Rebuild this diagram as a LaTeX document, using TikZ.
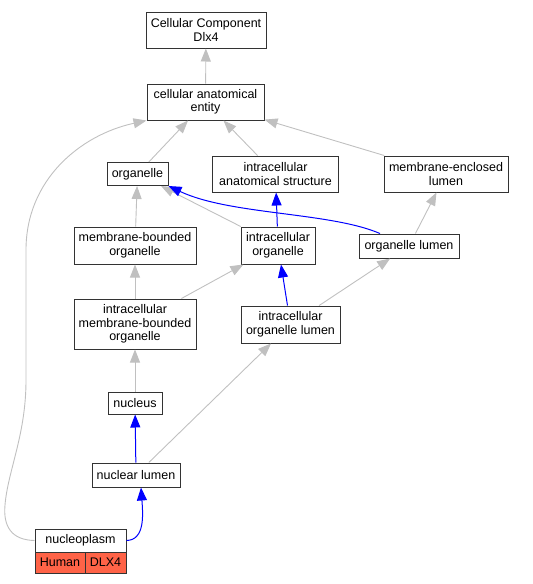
\documentclass[tikz,border=0pt]{standalone}
\usepackage{fontspec}
\setmainfont{Liberation Sans}
\usetikzlibrary{arrows.meta,calc}
\definecolor{edgegray}{RGB}{192,192,192}
\definecolor{edgeblue}{RGB}{0,0,255}
\definecolor{tomatofill}{RGB}{255,99,71}
\definecolor{boxline}{RGB}{51,51,51}
\begin{document}
\begin{tikzpicture}[x=1pt,y=-1pt,
  box/.style={draw=boxline,line width=1pt,fill=white,inner sep=0pt,align=center,
    font=\fontsize{12.5}{13.5}\selectfont},
  gedge/.style={draw=edgegray,line width=0.9pt,-{Triangle[length=13pt,width=10pt,fill=edgegray]}},
  bedge/.style={draw=edgeblue,line width=1pt,-{Triangle[length=13pt,width=10pt,fill=edgeblue]}},
  sp/.style={fill=tomatofill,draw=boxline,line width=1pt,inner sep=0pt,
    font=\fontsize{12.5}{13.5}\selectfont}]
\useasboundingbox (0,0) rectangle (533,584);
\node[box,minimum width=120pt,minimum height=36pt] (ccd) at (206,30) {Cellular Component\\Dlx4};
\node[box,minimum width=117pt,minimum height=36pt] (cae) at (205.5,102) {cellular anatomical\\entity};
\node[box,minimum width=61pt,minimum height=23pt] (org) at (137.5,174) {organelle};
\node[box,minimum width=126pt,minimum height=36pt] (ias) at (275.5,174) {intracellular\\anatomical structure};
\node[box,minimum width=124pt,minimum height=36pt] (mel) at (446,174) {membrane-enclosed\\lumen};
\node[box,minimum width=122pt,minimum height=37pt] (mbo) at (135,245.5) {membrane-bounded\\organelle};
\node[box,minimum width=74pt,minimum height=37pt] (io) at (278,245.5) {intracellular\\organelle};
\node[box,minimum width=100pt,minimum height=24pt] (ol) at (409,246) {organelle lumen};
\node[box,minimum width=122pt,minimum height=50pt] (imbo) at (135,324) {intracellular\\membrane-bounded\\organelle};
\node[box,minimum width=99pt,minimum height=37pt] (iol) at (290.5,324.5) {intracellular\\organelle lumen};
\node[box,minimum width=54pt,minimum height=22pt] (nuc) at (135,403) {nucleus};
\node[box,minimum width=88pt,minimum height=24pt] (nl) at (136,475) {nuclear lumen};
\node[box,minimum width=91pt,minimum height=23pt] (npl) at (80.5,540.5) {nucleoplasm};
\node[sp,minimum width=50pt,minimum height=21pt] (hum) at (60,562.5) {Human};
\node[sp,minimum width=41pt,minimum height=21pt] (dlx) at (105.5,562.5) {DLX4};
% gray edges
\draw[gedge] (cae) -- (ccd);
\draw[gedge] (org) -- (cae);
\draw[gedge] (ias) -- (cae);
\draw[gedge] (mel) -- (cae);
\draw[gedge] (mbo) -- (org);
\draw[gedge] (io) -- (org);
\draw[gedge] (ol) -- (mel);
\draw[gedge] (imbo) -- (mbo);
\draw[gedge] (imbo) -- (io);
\draw[gedge] (iol) -- (ol);
\draw[gedge] (nuc) -- (imbo);
\draw[gedge] (nl) -- (iol);
\draw[gedge] (npl.west) .. controls (12,540) and (3,527) .. (5,505)
  .. controls (8,470) and (26,435) .. (26,380) -- (26,250)
  .. controls (26,180) and (80,135) .. (cae.south west);
% blue edges
\draw[bedge] (io) -- (ias);
\draw[bedge] (iol) -- (io);
\draw[bedge] (nl) -- (nuc);
\draw[bedge] ($(ol.north)+(-29,0)$) .. controls (330,212) and (230,215) .. (org.south east);
\draw[bedge] (npl.east) .. controls (145,540) and (143,515) .. ($(nl.south)+(5,0)$);
\end{tikzpicture}
\end{document}
